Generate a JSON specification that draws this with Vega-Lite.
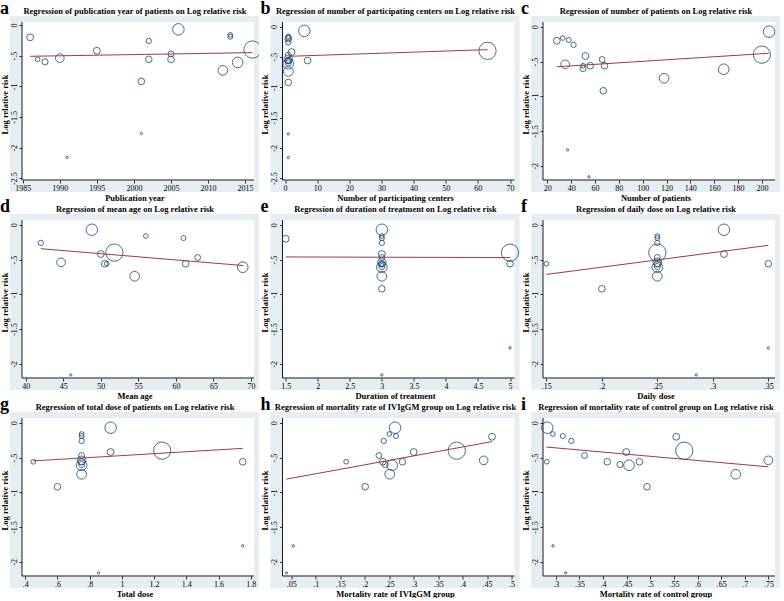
{
"$schema":"https://vega.github.io/schema/vega-lite/v6.json",
"background":"white",
"padding":{"left":0,"top":0,"right":0,"bottom":0},
"datasets":{
"one":[{"k":1}],
"pts":[
{"p":"a","x":1986,"y":-0.2,"w":15},{"p":"a","x":1987,"y":-0.56,"w":7},{"p":"a","x":1988,"y":-0.6,"w":12},{"p":"a","x":1990,"y":-0.54,"w":24},{"p":"a","x":1991,"y":-2.16,"w":1.8},{"p":"a","x":1995,"y":-0.42,"w":15},{"p":"a","x":2001,"y":-0.92,"w":14},{"p":"a","x":2001,"y":-1.77,"w":1.8},{"p":"a","x":2002,"y":-0.26,"w":9},{"p":"a","x":2002,"y":-0.56,"w":14},{"p":"a","x":2005,"y":-0.47,"w":11},{"p":"a","x":2005,"y":-0.56,"w":14},{"p":"a","x":2006,"y":-0.07,"w":42},{"p":"a","x":2012,"y":-0.74,"w":30},{"p":"a","x":2013,"y":-0.16,"w":7},{"p":"a","x":2013,"y":-0.19,"w":8},{"p":"a","x":2014,"y":-0.61,"w":36},{"p":"a","x":2016,"y":-0.4,"w":95},
{"p":"b","x":1,"y":-0.2,"w":15},{"p":"b","x":1,"y":-0.56,"w":7},{"p":"b","x":1,"y":-0.6,"w":12},{"p":"b","x":1,"y":-0.54,"w":24},{"p":"b","x":1,"y":-2.16,"w":1.8},{"p":"b","x":2,"y":-0.42,"w":15},{"p":"b","x":1,"y":-0.92,"w":14},{"p":"b","x":1,"y":-1.77,"w":1.8},{"p":"b","x":1,"y":-0.26,"w":9},{"p":"b","x":1,"y":-0.56,"w":14},{"p":"b","x":1,"y":-0.47,"w":11},{"p":"b","x":7,"y":-0.56,"w":14},{"p":"b","x":6,"y":-0.07,"w":42},{"p":"b","x":1,"y":-0.74,"w":30},{"p":"b","x":1,"y":-0.16,"w":7},{"p":"b","x":1,"y":-0.19,"w":8},{"p":"b","x":1,"y":-0.61,"w":36},{"p":"b","x":63,"y":-0.4,"w":95},
{"p":"c","x":28,"y":-0.2,"w":15},{"p":"c","x":50,"y":-0.56,"w":7},{"p":"c","x":50,"y":-0.6,"w":12},{"p":"c","x":35,"y":-0.54,"w":24},{"p":"c","x":55,"y":-2.16,"w":1.8},{"p":"c","x":52,"y":-0.42,"w":15},{"p":"c","x":67,"y":-0.92,"w":14},{"p":"c","x":37,"y":-1.77,"w":1.8},{"p":"c","x":42,"y":-0.26,"w":9},{"p":"c","x":56,"y":-0.56,"w":14},{"p":"c","x":66,"y":-0.47,"w":11},{"p":"c","x":68,"y":-0.56,"w":14},{"p":"c","x":206,"y":-0.07,"w":42},{"p":"c","x":118,"y":-0.74,"w":30},{"p":"c","x":33,"y":-0.16,"w":7},{"p":"c","x":38,"y":-0.19,"w":8},{"p":"c","x":168,"y":-0.61,"w":36},{"p":"c","x":200,"y":-0.4,"w":95},
{"p":"d","x":50.8,"y":-0.56,"w":7},{"p":"d","x":44.7,"y":-0.54,"w":24},{"p":"d","x":46,"y":-2.16,"w":1.8},{"p":"d","x":50,"y":-0.42,"w":15},{"p":"d","x":42,"y":-0.26,"w":9},{"p":"d","x":50.5,"y":-0.56,"w":14},{"p":"d","x":62.9,"y":-0.47,"w":11},{"p":"d","x":61.3,"y":-0.56,"w":14},{"p":"d","x":48.8,"y":-0.07,"w":42},{"p":"d","x":54.5,"y":-0.74,"w":30},{"p":"d","x":56,"y":-0.16,"w":7},{"p":"d","x":61,"y":-0.19,"w":8},{"p":"d","x":68.9,"y":-0.61,"w":36},{"p":"d","x":51.8,"y":-0.4,"w":95},
{"p":"e","x":1.5,"y":-0.2,"w":15},{"p":"e","x":3,"y":-0.56,"w":7},{"p":"e","x":3,"y":-0.6,"w":12},{"p":"e","x":3,"y":-0.54,"w":24},{"p":"e","x":3,"y":-2.16,"w":1.8},{"p":"e","x":3,"y":-0.42,"w":15},{"p":"e","x":3,"y":-0.92,"w":14},{"p":"e","x":5,"y":-1.77,"w":1.8},{"p":"e","x":3,"y":-0.26,"w":9},{"p":"e","x":3,"y":-0.56,"w":14},{"p":"e","x":3,"y":-0.47,"w":11},{"p":"e","x":5,"y":-0.56,"w":14},{"p":"e","x":3,"y":-0.07,"w":42},{"p":"e","x":3,"y":-0.74,"w":30},{"p":"e","x":3,"y":-0.16,"w":7},{"p":"e","x":3,"y":-0.19,"w":8},{"p":"e","x":3,"y":-0.61,"w":36},{"p":"e","x":5,"y":-0.4,"w":95},
{"p":"f","x":0.15,"y":-0.56,"w":7},{"p":"f","x":0.25,"y":-0.6,"w":12},{"p":"f","x":0.25,"y":-0.54,"w":24},{"p":"f","x":0.285,"y":-2.16,"w":1.8},{"p":"f","x":0.31,"y":-0.42,"w":15},{"p":"f","x":0.2,"y":-0.92,"w":14},{"p":"f","x":0.35,"y":-1.77,"w":1.8},{"p":"f","x":0.25,"y":-0.26,"w":9},{"p":"f","x":0.25,"y":-0.56,"w":14},{"p":"f","x":0.25,"y":-0.47,"w":11},{"p":"f","x":0.35,"y":-0.56,"w":14},{"p":"f","x":0.31,"y":-0.07,"w":42},{"p":"f","x":0.25,"y":-0.74,"w":30},{"p":"f","x":0.25,"y":-0.16,"w":7},{"p":"f","x":0.25,"y":-0.19,"w":8},{"p":"f","x":0.25,"y":-0.61,"w":36},{"p":"f","x":0.25,"y":-0.4,"w":95},
{"p":"g","x":0.45,"y":-0.56,"w":7},{"p":"g","x":0.75,"y":-0.6,"w":12},{"p":"g","x":0.75,"y":-0.54,"w":24},{"p":"g","x":0.855,"y":-2.16,"w":1.8},{"p":"g","x":0.93,"y":-0.42,"w":15},{"p":"g","x":0.6,"y":-0.92,"w":14},{"p":"g","x":1.75,"y":-1.77,"w":1.8},{"p":"g","x":0.75,"y":-0.26,"w":9},{"p":"g","x":0.75,"y":-0.56,"w":14},{"p":"g","x":0.75,"y":-0.47,"w":11},{"p":"g","x":1.75,"y":-0.56,"w":14},{"p":"g","x":0.93,"y":-0.07,"w":42},{"p":"g","x":0.75,"y":-0.74,"w":30},{"p":"g","x":0.75,"y":-0.16,"w":7},{"p":"g","x":0.75,"y":-0.19,"w":8},{"p":"g","x":0.75,"y":-0.61,"w":36},{"p":"g","x":1.25,"y":-0.4,"w":95},
{"p":"h","x":0.46,"y":-0.2,"w":15},{"p":"h","x":0.162,"y":-0.56,"w":7},{"p":"h","x":0.242,"y":-0.6,"w":12},{"p":"h","x":0.443,"y":-0.54,"w":24},{"p":"h","x":0.04,"y":-2.16,"w":1.8},{"p":"h","x":0.3,"y":-0.42,"w":15},{"p":"h","x":0.201,"y":-0.92,"w":14},{"p":"h","x":0.054,"y":-1.77,"w":1.8},{"p":"h","x":0.239,"y":-0.26,"w":9},{"p":"h","x":0.237,"y":-0.56,"w":14},{"p":"h","x":0.229,"y":-0.47,"w":11},{"p":"h","x":0.277,"y":-0.56,"w":14},{"p":"h","x":0.262,"y":-0.07,"w":42},{"p":"h","x":0.251,"y":-0.74,"w":30},{"p":"h","x":0.25,"y":-0.16,"w":7},{"p":"h","x":0.264,"y":-0.19,"w":8},{"p":"h","x":0.256,"y":-0.61,"w":36},{"p":"h","x":0.388,"y":-0.4,"w":95},
{"p":"i","x":0.555,"y":-0.2,"w":15},{"p":"i","x":0.281,"y":-0.56,"w":7},{"p":"i","x":0.436,"y":-0.6,"w":12},{"p":"i","x":0.75,"y":-0.54,"w":24},{"p":"i","x":0.321,"y":-2.16,"w":1.8},{"p":"i","x":0.449,"y":-0.42,"w":15},{"p":"i","x":0.493,"y":-0.92,"w":14},{"p":"i","x":0.294,"y":-1.77,"w":1.8},{"p":"i","x":0.333,"y":-0.26,"w":9},{"p":"i","x":0.409,"y":-0.56,"w":14},{"p":"i","x":0.361,"y":-0.47,"w":11},{"p":"i","x":0.477,"y":-0.56,"w":14},{"p":"i","x":0.282,"y":-0.07,"w":42},{"p":"i","x":0.681,"y":-0.74,"w":30},{"p":"i","x":0.294,"y":-0.16,"w":7},{"p":"i","x":0.315,"y":-0.19,"w":8},{"p":"i","x":0.455,"y":-0.61,"w":36},{"p":"i","x":0.572,"y":-0.4,"w":95}
],
"fit":[
{"p":"a","x":1986,"y":-0.51},{"p":"a","x":2016,"y":-0.45},
{"p":"b","x":1,"y":-0.49},{"p":"b","x":63,"y":-0.38},
{"p":"c","x":28,"y":-0.575},{"p":"c","x":206,"y":-0.38},
{"p":"d","x":42,"y":-0.343},{"p":"d","x":69,"y":-0.586},
{"p":"e","x":1.5,"y":-0.462},{"p":"e","x":5,"y":-0.471},
{"p":"f","x":0.15,"y":-0.714},{"p":"f","x":0.35,"y":-0.295},
{"p":"g","x":0.45,"y":-0.548},{"p":"g","x":1.75,"y":-0.367},
{"p":"h","x":0.04,"y":-0.81},{"p":"h","x":0.46,"y":-0.27},
{"p":"i","x":0.28,"y":-0.348},{"p":"i","x":0.75,"y":-0.633}
]
},
"columns":3,
"bounds":"flush",
"spacing":{"column":11.5,"row":22},
"concat":[
{"width":249,"height":176,"title":{"text":"a"},"resolve":{"axis":{"x":"independent","y":"independent"}},"layer":[
{"data":{"name":"one"},"mark":{"type":"rect","color":"white"},"encoding":{"x":{"datum":1984.9,"type":"quantitative","axis":null},"x2":{"datum":2016.2},"y":{"datum":-2.53,"type":"quantitative","axis":null},"y2":{"datum":0.05}}},
{"data":{"name":"one"},"mark":{"type":"rule","color":"black","strokeWidth":0.9},"encoding":{"x":{"datum":1984.9,"type":"quantitative","axis":null},"y":{"datum":-2.53,"type":"quantitative","axis":null},"y2":{"datum":0.05}}},
{"data":{"name":"one"},"mark":{"type":"rule","color":"black","strokeWidth":0.9},"encoding":{"x":{"datum":1984.9,"type":"quantitative","axis":null},"x2":{"datum":2016.2},"y":{"datum":-2.53,"type":"quantitative","axis":null}}},
{"data":{"name":"pts"},"transform":[{"filter":"datum.p==='a'"}],"mark":{"type":"point","shape":"circle","filled":false,"stroke":"#1A476F","strokeWidth":0.8,"opacity":1,"clip":true},
"encoding":{"x":{"field":"x","type":"quantitative","scale":{"domain":[1983.281,2016.875],"nice":false,"zero":false},"axis":{"title":"Publication year","values":[1985,1990,1995,2000,2005,2010,2015]}},
"y":{"field":"y","type":"quantitative","scale":{"domain":[-2.726,0.148],"nice":false,"zero":false},"axis":{"title":"Log relative risk","values":[0,-0.5,-1,-1.5,-2,-2.5]}},
"size":{"field":"w","type":"quantitative","scale":{"domain":[0,100],"range":[0,314]},"legend":null}}},
{"data":{"name":"fit"},"transform":[{"filter":"datum.p==='a'"}],"mark":{"type":"line","color":"#9B3A44","strokeWidth":1},
"encoding":{"x":{"field":"x","type":"quantitative","axis":{"orient":"top","title":"Regression of publication year of patients on Log relative risk","labels":false,"ticks":false,"domain":false,"grid":false,"offset":0}},"y":{"field":"y","type":"quantitative","axis":null}}}
]},
{"width":249,"height":176,"title":{"text":"b"},"resolve":{"axis":{"x":"independent","y":"independent"}},"layer":[
{"data":{"name":"one"},"mark":{"type":"rect","color":"white"},"encoding":{"x":{"datum":-0.8,"type":"quantitative","axis":null},"x2":{"datum":71.4},"y":{"datum":-2.53,"type":"quantitative","axis":null},"y2":{"datum":0.076}}},
{"data":{"name":"one"},"mark":{"type":"rule","color":"black","strokeWidth":0.9},"encoding":{"x":{"datum":-0.8,"type":"quantitative","axis":null},"y":{"datum":-2.53,"type":"quantitative","axis":null},"y2":{"datum":0.076}}},
{"data":{"name":"one"},"mark":{"type":"rule","color":"black","strokeWidth":0.9},"encoding":{"x":{"datum":-0.8,"type":"quantitative","axis":null},"x2":{"datum":71.4},"y":{"datum":-2.53,"type":"quantitative","axis":null}}},
{"data":{"name":"pts"},"transform":[{"filter":"datum.p==='b'"}],"mark":{"type":"point","shape":"circle","filled":false,"stroke":"#1A476F","strokeWidth":0.8,"opacity":1,"clip":true},
"encoding":{"x":{"field":"x","type":"quantitative","scale":{"domain":[-4.535,72.956],"nice":false,"zero":false},"axis":{"title":"Number of participating centers","values":[0,10,20,30,40,50,60,70]}},
"y":{"field":"y","type":"quantitative","scale":{"domain":[-2.728,0.175],"nice":false,"zero":false},"axis":{"title":"Log relative risk","values":[0,-0.5,-1,-1.5,-2,-2.5]}},
"size":{"field":"w","type":"quantitative","scale":{"domain":[0,100],"range":[0,314]},"legend":null}}},
{"data":{"name":"fit"},"transform":[{"filter":"datum.p==='b'"}],"mark":{"type":"line","color":"#9B3A44","strokeWidth":1},
"encoding":{"x":{"field":"x","type":"quantitative","axis":{"orient":"top","title":"Regression of number of participating centers on Log relative risk","labels":false,"ticks":false,"domain":false,"grid":false,"offset":0}},"y":{"field":"y","type":"quantitative","axis":null}}}
]},
{"width":249,"height":176,"title":{"text":"c"},"resolve":{"axis":{"x":"independent","y":"independent"}},"layer":[
{"data":{"name":"one"},"mark":{"type":"rect","color":"white"},"encoding":{"x":{"datum":16.4,"type":"quantitative","axis":null},"x2":{"datum":211},"y":{"datum":-2.205,"type":"quantitative","axis":null},"y2":{"datum":0.07}}},
{"data":{"name":"one"},"mark":{"type":"rule","color":"black","strokeWidth":0.9},"encoding":{"x":{"datum":16.4,"type":"quantitative","axis":null},"y":{"datum":-2.205,"type":"quantitative","axis":null},"y2":{"datum":0.07}}},
{"data":{"name":"one"},"mark":{"type":"rule","color":"black","strokeWidth":0.9},"encoding":{"x":{"datum":16.4,"type":"quantitative","axis":null},"x2":{"datum":211},"y":{"datum":-2.205,"type":"quantitative","axis":null}}},
{"data":{"name":"pts"},"transform":[{"filter":"datum.p==='c'"}],"mark":{"type":"point","shape":"circle","filled":false,"stroke":"#1A476F","strokeWidth":0.8,"opacity":1,"clip":true},
"encoding":{"x":{"field":"x","type":"quantitative","scale":{"domain":[6.335,215.194],"nice":false,"zero":false},"axis":{"title":"Number of patients","values":[20,40,60,80,100,120,140,160,180,200]}},
"y":{"field":"y","type":"quantitative","scale":{"domain":[-2.3778,0.1564],"nice":false,"zero":false},"axis":{"title":"Log relative risk","values":[0,-0.5,-1,-1.5,-2]}},
"size":{"field":"w","type":"quantitative","scale":{"domain":[0,100],"range":[0,314]},"legend":null}}},
{"data":{"name":"fit"},"transform":[{"filter":"datum.p==='c'"}],"mark":{"type":"line","color":"#9B3A44","strokeWidth":1},
"encoding":{"x":{"field":"x","type":"quantitative","axis":{"orient":"top","title":"Regression of number of patients on Log relative risk","labels":false,"ticks":false,"domain":false,"grid":false,"offset":0}},"y":{"field":"y","type":"quantitative","axis":null}}}
]},
{"width":249,"height":176,"title":{"text":"d"},"resolve":{"axis":{"x":"independent","y":"independent"}},"layer":[
{"data":{"name":"one"},"mark":{"type":"rect","color":"white"},"encoding":{"x":{"datum":39.5,"type":"quantitative","axis":null},"x2":{"datum":70.4},"y":{"datum":-2.205,"type":"quantitative","axis":null},"y2":{"datum":0.07}}},
{"data":{"name":"one"},"mark":{"type":"rule","color":"black","strokeWidth":0.9},"encoding":{"x":{"datum":39.5,"type":"quantitative","axis":null},"y":{"datum":-2.205,"type":"quantitative","axis":null},"y2":{"datum":0.07}}},
{"data":{"name":"one"},"mark":{"type":"rule","color":"black","strokeWidth":0.9},"encoding":{"x":{"datum":39.5,"type":"quantitative","axis":null},"x2":{"datum":70.4},"y":{"datum":-2.205,"type":"quantitative","axis":null}}},
{"data":{"name":"pts"},"transform":[{"filter":"datum.p==='d'"}],"mark":{"type":"point","shape":"circle","filled":false,"stroke":"#1A476F","strokeWidth":0.8,"opacity":1,"clip":true},
"encoding":{"x":{"field":"x","type":"quantitative","scale":{"domain":[37.902,71.066],"nice":false,"zero":false},"axis":{"title":"Mean age","values":[40,45,50,55,60,65,70]}},
"y":{"field":"y","type":"quantitative","scale":{"domain":[-2.3778,0.1564],"nice":false,"zero":false},"axis":{"title":"Log relative risk","values":[0,-0.5,-1,-1.5,-2]}},
"size":{"field":"w","type":"quantitative","scale":{"domain":[0,100],"range":[0,314]},"legend":null}}},
{"data":{"name":"fit"},"transform":[{"filter":"datum.p==='d'"}],"mark":{"type":"line","color":"#9B3A44","strokeWidth":1},
"encoding":{"x":{"field":"x","type":"quantitative","axis":{"orient":"top","title":"Regression of mean age on Log relative risk","labels":false,"ticks":false,"domain":false,"grid":false,"offset":0}},"y":{"field":"y","type":"quantitative","axis":null}}}
]},
{"width":249,"height":176,"title":{"text":"e"},"resolve":{"axis":{"x":"independent","y":"independent"}},"layer":[
{"data":{"name":"one"},"mark":{"type":"rect","color":"white"},"encoding":{"x":{"datum":1.45,"type":"quantitative","axis":null},"x2":{"datum":5.07},"y":{"datum":-2.205,"type":"quantitative","axis":null},"y2":{"datum":0.07}}},
{"data":{"name":"one"},"mark":{"type":"rule","color":"black","strokeWidth":0.9},"encoding":{"x":{"datum":1.45,"type":"quantitative","axis":null},"y":{"datum":-2.205,"type":"quantitative","axis":null},"y2":{"datum":0.07}}},
{"data":{"name":"one"},"mark":{"type":"rule","color":"black","strokeWidth":0.9},"encoding":{"x":{"datum":1.45,"type":"quantitative","axis":null},"x2":{"datum":5.07},"y":{"datum":-2.205,"type":"quantitative","axis":null}}},
{"data":{"name":"pts"},"transform":[{"filter":"datum.p==='e'"}],"mark":{"type":"point","shape":"circle","filled":false,"stroke":"#1A476F","strokeWidth":0.8,"opacity":1,"clip":true},
"encoding":{"x":{"field":"x","type":"quantitative","scale":{"domain":[1.2628,5.148],"nice":false,"zero":false},"axis":{"title":"Duration of treatment","values":[1.5,2,2.5,3,3.5,4,4.5,5]}},
"y":{"field":"y","type":"quantitative","scale":{"domain":[-2.3778,0.1564],"nice":false,"zero":false},"axis":{"title":"Log relative risk","values":[0,-0.5,-1,-1.5,-2]}},
"size":{"field":"w","type":"quantitative","scale":{"domain":[0,100],"range":[0,314]},"legend":null}}},
{"data":{"name":"fit"},"transform":[{"filter":"datum.p==='e'"}],"mark":{"type":"line","color":"#9B3A44","strokeWidth":1},
"encoding":{"x":{"field":"x","type":"quantitative","axis":{"orient":"top","title":"Regression of duration of treatment on Log relative risk","labels":false,"ticks":false,"domain":false,"grid":false,"offset":0}},"y":{"field":"y","type":"quantitative","axis":null}}}
]},
{"width":249,"height":176,"title":{"text":"f"},"resolve":{"axis":{"x":"independent","y":"independent"}},"layer":[
{"data":{"name":"one"},"mark":{"type":"rect","color":"white"},"encoding":{"x":{"datum":0.147,"type":"quantitative","axis":null},"x2":{"datum":0.356},"y":{"datum":-2.205,"type":"quantitative","axis":null},"y2":{"datum":0.07}}},
{"data":{"name":"one"},"mark":{"type":"rule","color":"black","strokeWidth":0.9},"encoding":{"x":{"datum":0.147,"type":"quantitative","axis":null},"y":{"datum":-2.205,"type":"quantitative","axis":null},"y2":{"datum":0.07}}},
{"data":{"name":"one"},"mark":{"type":"rule","color":"black","strokeWidth":0.9},"encoding":{"x":{"datum":0.147,"type":"quantitative","axis":null},"x2":{"datum":0.356},"y":{"datum":-2.205,"type":"quantitative","axis":null}}},
{"data":{"name":"pts"},"transform":[{"filter":"datum.p==='f'"}],"mark":{"type":"point","shape":"circle","filled":false,"stroke":"#1A476F","strokeWidth":0.8,"opacity":1,"clip":true},
"encoding":{"x":{"field":"x","type":"quantitative","scale":{"domain":[0.13619,0.3605],"nice":false,"zero":false},"axis":{"title":"Daily dose","values":[0.15,0.2,0.25,0.3,0.35]}},
"y":{"field":"y","type":"quantitative","scale":{"domain":[-2.3778,0.1564],"nice":false,"zero":false},"axis":{"title":"Log relative risk","values":[0,-0.5,-1,-1.5,-2]}},
"size":{"field":"w","type":"quantitative","scale":{"domain":[0,100],"range":[0,314]},"legend":null}}},
{"data":{"name":"fit"},"transform":[{"filter":"datum.p==='f'"}],"mark":{"type":"line","color":"#9B3A44","strokeWidth":1},
"encoding":{"x":{"field":"x","type":"quantitative","axis":{"orient":"top","title":"Regression of daily dose on Log relative risk","labels":false,"ticks":false,"domain":false,"grid":false,"offset":0}},"y":{"field":"y","type":"quantitative","axis":null}}}
]},
{"width":249,"height":176,"title":{"text":"g"},"resolve":{"axis":{"x":"independent","y":"independent"}},"layer":[
{"data":{"name":"one"},"mark":{"type":"rect","color":"white"},"encoding":{"x":{"datum":0.38,"type":"quantitative","axis":null},"x2":{"datum":1.82},"y":{"datum":-2.205,"type":"quantitative","axis":null},"y2":{"datum":0.07}}},
{"data":{"name":"one"},"mark":{"type":"rule","color":"black","strokeWidth":0.9},"encoding":{"x":{"datum":0.38,"type":"quantitative","axis":null},"y":{"datum":-2.205,"type":"quantitative","axis":null},"y2":{"datum":0.07}}},
{"data":{"name":"one"},"mark":{"type":"rule","color":"black","strokeWidth":0.9},"encoding":{"x":{"datum":0.38,"type":"quantitative","axis":null},"x2":{"datum":1.82},"y":{"datum":-2.205,"type":"quantitative","axis":null}}},
{"data":{"name":"pts"},"transform":[{"filter":"datum.p==='g'"}],"mark":{"type":"point","shape":"circle","filled":false,"stroke":"#1A476F","strokeWidth":0.8,"opacity":1,"clip":true},
"encoding":{"x":{"field":"x","type":"quantitative","scale":{"domain":[0.3055,1.851],"nice":false,"zero":false},"axis":{"title":"Total dose","values":[0.4,0.6,0.8,1,1.2,1.4,1.6,1.8]}},
"y":{"field":"y","type":"quantitative","scale":{"domain":[-2.3778,0.1564],"nice":false,"zero":false},"axis":{"title":"Log relative risk","values":[0,-0.5,-1,-1.5,-2]}},
"size":{"field":"w","type":"quantitative","scale":{"domain":[0,100],"range":[0,314]},"legend":null}}},
{"data":{"name":"fit"},"transform":[{"filter":"datum.p==='g'"}],"mark":{"type":"line","color":"#9B3A44","strokeWidth":1},
"encoding":{"x":{"field":"x","type":"quantitative","axis":{"orient":"top","title":"Regression of total dose of patients on Log relative risk","labels":false,"ticks":false,"domain":false,"grid":false,"offset":0}},"y":{"field":"y","type":"quantitative","axis":null}}}
]},
{"width":249,"height":176,"title":{"text":"h"},"resolve":{"axis":{"x":"independent","y":"independent"}},"layer":[
{"data":{"name":"one"},"mark":{"type":"rect","color":"white"},"encoding":{"x":{"datum":0.032,"type":"quantitative","axis":null},"x2":{"datum":0.506},"y":{"datum":-2.205,"type":"quantitative","axis":null},"y2":{"datum":0.07}}},
{"data":{"name":"one"},"mark":{"type":"rule","color":"black","strokeWidth":0.9},"encoding":{"x":{"datum":0.032,"type":"quantitative","axis":null},"y":{"datum":-2.205,"type":"quantitative","axis":null},"y2":{"datum":0.07}}},
{"data":{"name":"one"},"mark":{"type":"rule","color":"black","strokeWidth":0.9},"encoding":{"x":{"datum":0.032,"type":"quantitative","axis":null},"x2":{"datum":0.506},"y":{"datum":-2.205,"type":"quantitative","axis":null}}},
{"data":{"name":"pts"},"transform":[{"filter":"datum.p==='h'"}],"mark":{"type":"point","shape":"circle","filled":false,"stroke":"#1A476F","strokeWidth":0.8,"opacity":1,"clip":true},
"encoding":{"x":{"field":"x","type":"quantitative","scale":{"domain":[0.00748,0.51621],"nice":false,"zero":false},"axis":{"title":"Mortality rate of IVIgGM group","values":[0.05,0.1,0.15,0.2,0.25,0.3,0.35,0.4,0.45,0.5]}},
"y":{"field":"y","type":"quantitative","scale":{"domain":[-2.3778,0.1564],"nice":false,"zero":false},"axis":{"title":"Log relative risk","values":[0,-0.5,-1,-1.5,-2]}},
"size":{"field":"w","type":"quantitative","scale":{"domain":[0,100],"range":[0,314]},"legend":null}}},
{"data":{"name":"fit"},"transform":[{"filter":"datum.p==='h'"}],"mark":{"type":"line","color":"#9B3A44","strokeWidth":1},
"encoding":{"x":{"field":"x","type":"quantitative","axis":{"orient":"top","title":"Regression of mortality rate of IVIgGM group on Log relative risk","labels":false,"ticks":false,"domain":false,"grid":false,"offset":0}},"y":{"field":"y","type":"quantitative","axis":null}}}
]},
{"width":249,"height":176,"title":{"text":"i"},"resolve":{"axis":{"x":"independent","y":"independent"}},"layer":[
{"data":{"name":"one"},"mark":{"type":"rect","color":"white"},"encoding":{"x":{"datum":0.273,"type":"quantitative","axis":null},"x2":{"datum":0.764},"y":{"datum":-2.205,"type":"quantitative","axis":null},"y2":{"datum":0.07}}},
{"data":{"name":"one"},"mark":{"type":"rule","color":"black","strokeWidth":0.9},"encoding":{"x":{"datum":0.273,"type":"quantitative","axis":null},"y":{"datum":-2.205,"type":"quantitative","axis":null},"y2":{"datum":0.07}}},
{"data":{"name":"one"},"mark":{"type":"rule","color":"black","strokeWidth":0.9},"encoding":{"x":{"datum":0.273,"type":"quantitative","axis":null},"x2":{"datum":0.764},"y":{"datum":-2.205,"type":"quantitative","axis":null}}},
{"data":{"name":"pts"},"transform":[{"filter":"datum.p==='i'"}],"mark":{"type":"point","shape":"circle","filled":false,"stroke":"#1A476F","strokeWidth":0.8,"opacity":1,"clip":true},
"encoding":{"x":{"field":"x","type":"quantitative","scale":{"domain":[0.2476,0.77458],"nice":false,"zero":false},"axis":{"title":"Mortality rate of control group","values":[0.3,0.35,0.4,0.45,0.5,0.55,0.6,0.65,0.7,0.75]}},
"y":{"field":"y","type":"quantitative","scale":{"domain":[-2.3778,0.1564],"nice":false,"zero":false},"axis":{"title":"Log relative risk","values":[0,-0.5,-1,-1.5,-2]}},
"size":{"field":"w","type":"quantitative","scale":{"domain":[0,100],"range":[0,314]},"legend":null}}},
{"data":{"name":"fit"},"transform":[{"filter":"datum.p==='i'"}],"mark":{"type":"line","color":"#9B3A44","strokeWidth":1},
"encoding":{"x":{"field":"x","type":"quantitative","axis":{"orient":"top","title":"Regression of mortality rate of control group on Log relative risk","labels":false,"ticks":false,"domain":false,"grid":false,"offset":0}},"y":{"field":"y","type":"quantitative","axis":null}}}
]}
],
"config":{
"font":"Liberation Serif",
"view":{"stroke":null,"fill":"#E5EEF2"},
"axis":{"offset":-12,"zindex":1,"domain":false,"labelFont":"Liberation Serif","labelFontSize":8,"labelColor":"black","titleFont":"Liberation Serif","titleFontSize":8.5,"titleFontWeight":"bold","titleColor":"black","tickColor":"black","tickWidth":0.8,"tickSize":3,"labelPadding":1,"titlePadding":1,"labelOverlap":false,"labelFlush":false,"labelBound":false,"labelExpr":"replace(toString(datum.value),'0.','.')"},
"axisX":{"grid":false},
"axisY":{"grid":true,"gridColor":"#E1E9EC","gridWidth":0.8,"labelAngle":270,"labelAlign":"center","labelBaseline":"bottom"},
"title":{"font":"Liberation Serif","fontSize":18,"fontWeight":"bold","color":"black","anchor":"start","frame":"bounds","offset":-12}
}
}
